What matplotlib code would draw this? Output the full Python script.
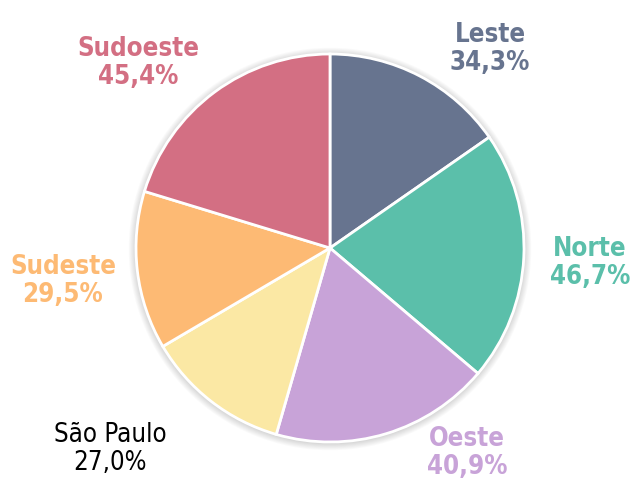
import numpy as np
import matplotlib.pyplot as plt
from matplotlib.patches import Circle
from matplotlib import font_manager

# regional shares, clockwise from the top
regions = ["Leste", "Norte", "Oeste", "São Paulo", "Sudeste", "Sudoeste"]
shares = [34.3, 46.7, 40.9, 27.0, 29.5, 45.4]
colors = ["#67748f", "#5bbfaa", "#c8a3d8", "#fbe8a4", "#fdba74", "#d36f83"]
label_colors = ["#67748f", "#5bbfaa", "#c8a3d8", "#000000", "#fdba74", "#d36f83"]
label_bold = [True, True, True, False, True, True]

W, H = 636, 483
fig = plt.figure(figsize=(W / 100, H / 100), dpi=100)
ax = fig.add_axes([0, 0, 1, 1])
ax.set_aspect("equal")

cx, cy, r = 330, H - 248, 194

# soft shadow around the pie
for k in range(8):
    ax.add_patch(Circle((cx, cy - 1), r + 1 + k * 0.9, color="black",
                        alpha=0.018, lw=0, zorder=0))

wedges, _ = ax.pie(shares, colors=colors, startangle=90, counterclock=False,
                   center=(cx, cy), radius=r, frame=True,
                   wedgeprops=dict(edgecolor="white", linewidth=2))
ax.set_xlim(0, W)
ax.set_ylim(0, H)
ax.axis("off")

# narrower face if the condensed DejaVu is around
cond = any("Condensed" in f.fname and "DejaVu" in f.fname
           for f in font_manager.fontManager.ttflist)
stretch = "condensed" if cond else "normal"
size = 18.5 if cond else 17

# label anchor points (pixel coords from top-left)
label_xy = [(490, 49), (590, 263), (467, 453), (110, 449), (63, 281), (138, 63)]

for name, val, col, bold, (lx, ly) in zip(regions, shares, label_colors,
                                          label_bold, label_xy):
    txt = f"{name}\n{val:.1f}%".replace(".", ",")
    ax.text(lx, H - ly, txt, ha="center", va="center", color=col,
            fontsize=size, fontweight="bold" if bold else "normal",
            fontstretch=stretch, linespacing=1.1, family="DejaVu Sans")

fig.savefig("out.png", dpi=100)
